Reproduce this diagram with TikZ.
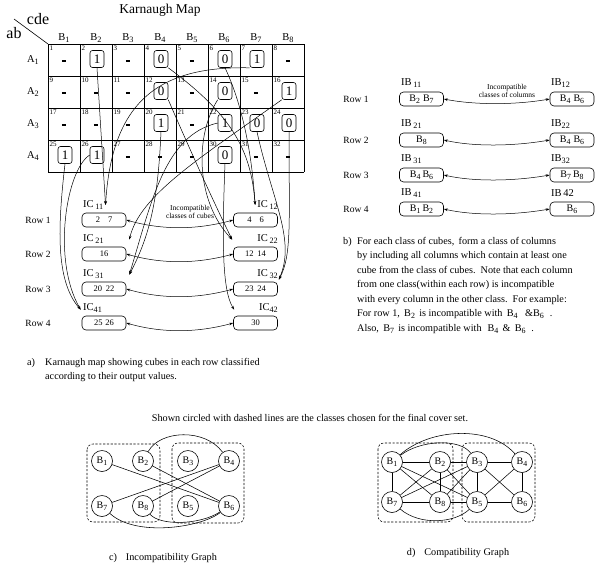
\documentclass[tikz,border=0pt]{standalone}
\usepackage{fontspec}
\setmainfont{Liberation Serif}
\usetikzlibrary{arrows.meta,calc}
\newcommand{\lw}[1]{\raisebox{-0.45ex}{\scalebox{0.78}{#1}}}
\newcommand{\fs}[1]{\fontsize{#1}{#1}\selectfont}
\begin{document}
\begin{tikzpicture}[x=1pt,y=-1pt,
  every node/.style={inner sep=0pt},
  cellbox/.style={draw, rounded corners=2.5pt, minimum width=14pt, minimum height=17pt, font=\fs{13}, line width=0.6pt},
  cellnum/.style={anchor=north west, font=\fs{7}},
  hdr/.style={font=\fs{10.5}},
  icbox/.style={draw, rounded corners=4pt, minimum width=44pt, minimum height=14pt, font=\fs{8.5}, line width=0.6pt},
  ibbox/.style={draw, rounded corners=4pt, minimum width=44pt, minimum height=14pt, font=\fs{10}, line width=0.6pt},
  lab/.style={font=\fs{10.5}},
  rowlab/.style={font=\fs{9.5}},
  note/.style={font=\fontsize{7.5}{8}\selectfont, align=center},
  conn/.style={line width=0.5pt, -{Stealth[length=4pt,width=2.6pt]}},
  dbl/.style={line width=0.5pt, {Stealth[length=4pt,width=2.6pt]}-{Stealth[length=4pt,width=2.6pt]}},
  gnode/.style={draw, circle, minimum size=21pt, font=\fs{10}, line width=0.6pt},
  gedge/.style={line width=0.55pt},
  dashbox/.style={draw, line width=0.55pt, dash pattern=on 2.2pt off 1.6pt, rounded corners=6pt},
  txt/.style={font=\fontsize{10.2}{14.5}\selectfont}
]
\useasboundingbox (0,0) rectangle (599,571);

% ---------- Karnaugh map ----------
\node[font=\fs{13.5}] (title) at (160,10) {Karnaugh Map};
\node[font=\fs{16}] (cde) at (38,19) {cde};
\node[font=\fs{16}] (ab) at (14,33) {ab};
\coordinate (dg) at (14,19);
\coordinate (kc) at (48,44);
\draw[line width=0.6pt] (dg) -- (kc);

\foreach \i in {0,...,8} \draw[line width=0.6pt] (48+32*\i,44) -- (48+32*\i,172);
\foreach \j in {0,...,4} \draw[line width=0.6pt] (48,44+32*\j) -- (304,44+32*\j);

\foreach \c in {1,...,8} \node[hdr] (hB\c) at (32*\c+32,38) {B\lw{\c}};
\foreach \r in {1,...,4} \node[hdr] (hA\r) at (33,28+32*\r) {A\lw{\r}};

\foreach \n in {1,...,32}{
  \pgfmathtruncatemacro\cc{mod(\n-1,8)}
  \pgfmathtruncatemacro\rr{(\n-1)/8}
  \node[cellnum] (num\n) at (49.5+32*\cc,45.5+32*\rr) {\n};
}
\foreach \n/\v in {2/1,4/0,6/0,7/1,12/0,14/0,16/1,20/1,22/1,23/0,24/0,25/1,26/1,30/0}{
  \pgfmathtruncatemacro\cc{mod(\n-1,8)}
  \pgfmathtruncatemacro\rr{(\n-1)/8}
  \node[cellbox] (k\n) at (65+32*\cc,59+32*\rr) {\v};
}
\foreach \n in {1,3,5,8,9,10,11,13,15,17,18,19,21,27,28,29,31,32}{
  \pgfmathtruncatemacro\cc{mod(\n-1,8)}
  \pgfmathtruncatemacro\rr{(\n-1)/8}
  \node (k\n) at (64+32*\cc,61+32*\rr) {\rule{4.5pt}{1.5pt}};
}

% ---------- classes of cubes ----------
\node[rowlab] (r1) at (38,220) {Row 1};
\node[rowlab] (r2) at (38,254) {Row 2};
\node[rowlab] (r3) at (38,289) {Row 3};
\node[rowlab] (r4) at (38,323) {Row 4};

\node[icbox] (ic11) at (104,220) {2\hspace{8pt}7};
\node[icbox] (ic12) at (255.5,220) {4\hspace{8pt}6};
\node[icbox] (ic21) at (104,254) {16};
\node[icbox] (ic22) at (255.5,254) {12\hspace{4pt}14};
\node[icbox] (ic31) at (104,289) {20\hspace{4pt}22};
\node[icbox] (ic32) at (255.5,289) {23\hspace{4pt}24};
\node[icbox] (ic41) at (104,323) {25\hspace{3pt}26};
\node[icbox] (ic42) at (255.5,323) {30};

\node[lab,anchor=west] (ic11l) at (83,205) {IC\,\lw{11}};
\node[lab,anchor=east] (ic12l) at (278,205) {IC\,\lw{12}};
\node[lab,anchor=west] (ic21l) at (83,239) {IC\,\lw{21}};
\node[lab,anchor=east] (ic22l) at (278,239) {IC\,\lw{22}};
\node[lab,anchor=west] (ic31l) at (83,274) {IC\,\lw{31}};
\node[lab,anchor=east] (ic32l) at (278,274) {IC\,\lw{32}};
\node[lab,anchor=west] (ic41l) at (83,308) {IC\lw{41}};
\node[lab,anchor=east] (ic42l) at (278,308) {IC\lw{42}};

\node[note] (nt1) at (190,212) {Incompatible\\classes of cubes};

\draw[dbl] (ic11.east) .. controls (165,231) and (200,229) .. (ic12.west);
\draw[dbl] (ic21.east) .. controls (165,265) and (200,263) .. (ic22.west);
\draw[dbl] (ic31.east) .. controls (165,300) and (200,298) .. (ic32.west);
\draw[dbl] (ic41.east) .. controls (165,334) and (200,332) .. (ic42.west);

% connectors from the map
\draw[conn] (k2.south) -- ([xshift=2pt]ic11l.east);
\draw[conn] (k7.south west) .. controls (160,66) and (112,100) .. ([xshift=2pt]ic11l.east);
\draw[conn] (k4.south east) .. controls (232,115) and (251,150) .. ([xshift=-2pt]ic12l.west);
\draw[conn] (k6.south) .. controls (238,95) and (251,140) .. ([xshift=-2pt]ic12l.west);
\draw[conn] (k16.south west) .. controls (200,158) and (140,195) .. ([shift={(3,-7)}]ic21.north east);
\draw[conn] (k12.south east) .. controls (190,150) and (215,205) .. ([shift={(-1,-7)}]ic22.north west);
\draw[conn] (k14.south west) .. controls (195,135) and (195,200) .. ([shift={(-1,-7)}]ic22.north west);
\draw[conn] (k20.south) .. controls (158,200) and (150,235) .. ([shift={(3,-7)}]ic31.north east);
\draw[conn] (k22.west) .. controls (165,135) and (152,200) .. ([shift={(3,-7)}]ic31.north east);
\draw[conn] (k23.south) .. controls (272,200) and (296,240) .. ([shift={(1,-2)}]ic32.north east);
\draw[conn] (k24.south) .. controls (289,220) and (292,255) .. ([shift={(1,-2)}]ic32.north east);
\draw[conn] (k25.south) .. controls (58,225) and (55,280) .. ([shift={(-1,-6)}]ic41.north west);
\draw[conn] (k26.west) .. controls (66,170) and (52,260) .. ([shift={(-1,-6)}]ic41.north west);
\draw[conn] (k30.south) .. controls (222,240) and (222,290) .. ([shift={(1,-6)}]ic42.north west);

% ---------- classes of columns ----------
\node[rowlab] (br1) at (356,99) {Row 1};
\node[rowlab] (br2) at (356,140) {Row 2};
\node[rowlab] (br3) at (356,175) {Row 3};
\node[rowlab] (br4) at (356,209) {Row 4};

\node[ibbox] (ib11) at (421.5,99) {B\lw{2}\hspace{3pt}B\lw{7}};
\node[ibbox] (ib12) at (572,99) {B\lw{4}\hspace{3pt}B\lw{6}};
\node[ibbox] (ib21) at (421.5,140) {B\lw{8}};
\node[ibbox] (ib22) at (572,140) {B\lw{4}\hspace{3pt}B\lw{6}};
\node[ibbox] (ib31) at (421.5,175) {B\lw{4}\hspace{2pt}B\lw{6}};
\node[ibbox] (ib32) at (572,175) {B\lw{7}\hspace{2pt}B\lw{8}};
\node[ibbox] (ib41) at (421.5,209) {B\lw{1}\hspace{2pt}B\lw{2}};
\node[ibbox] (ib42) at (572,209) {B\lw{6}};

\node[lab,anchor=west] (ib11l) at (401,83) {IB\,\lw{11}};
\node[lab,anchor=west] (ib12l) at (551,83) {IB\lw{12}};
\node[lab,anchor=west] (ib21l) at (401,124) {IB\,\lw{21}};
\node[lab,anchor=west] (ib22l) at (551,124) {IB\lw{22}};
\node[lab,anchor=west] (ib31l) at (401,159) {IB\,\lw{31}};
\node[lab,anchor=west] (ib32l) at (551,159) {IB\lw{32}};
\node[lab,anchor=west] (ib41l) at (401,193) {IB\,\lw{41}};
\node[lab,anchor=west] (ib42l) at (551,193) {IB\,42};

\node[note] (nt2) at (507,91) {Incompatible\\classes of columns};

\draw[dbl] (ib11.east) .. controls (475,105) and (515,105) .. (ib12.west);
\draw[dbl] (ib21.east) .. controls (475,147) and (515,146) .. (ib22.west);
\draw[dbl] (ib31.east) .. controls (475,182) and (515,181) .. (ib32.west);
\draw[dbl] (ib41.east) .. controls (475,216) and (515,215) .. (ib42.west);

\node[txt,anchor=north west] (blab) at (343,237) {b)};
\node[txt,anchor=north west,align=left] (btext) at (357,237) {For each class of cubes,\, form a class of columns\\
by including all columns which contain at least one\\
cube from the class of cubes.\, Note that each column\\
from one class(within each row) is incompatible\\
with every column in the other class.\, For example:\\
For row 1,\, B\lw{2}\, is incompatible with\, B\lw{4}\,\,\, \&B\lw{6}\,\, .\\
Also,\, B\lw{7}\, is incompatible with\,\, B\lw{4}\, \&\, B\lw{6}\,\, .};

\node[txt,anchor=north west] (capal) at (27,358) {a)};
\node[txt,anchor=north west,align=left] (capa) at (45,358) {Karnaugh map showing cubes in each row classified\\according to their output values.};

\node[txt] (shown) at (310,418) {Shown circled with dashed lines are the classes chosen for the final cover set.};

% ---------- incompatibility graph ----------
\draw[dashbox] (87,444) rectangle (160,522);
\draw[dashbox] (172,443) rectangle (244,523);
\node[gnode] (c1) at (102,461) {B\lw{1}};
\node[gnode] (c2) at (143,461) {B\lw{2}};
\node[gnode] (c3) at (188,461) {B\lw{3}};
\node[gnode] (c4) at (229,461) {B\lw{4}};
\node[gnode] (c7) at (102,506) {B\lw{7}};
\node[gnode] (c8) at (143,506) {B\lw{8}};
\node[gnode] (c5) at (188,506) {B\lw{5}};
\node[gnode] (c6) at (229,506) {B\lw{6}};
\draw[gedge] (c2) .. controls (160,430) and (205,428) .. (c4);
\draw[gedge] (c1) -- (c6);
\draw[gedge] (c2) -- (c6);
\draw[gedge] (c7) -- (c4);
\draw[gedge] (c8) -- (c4);
\draw[gedge] (c7) .. controls (135,537) and (200,528) .. (c6);
\draw[gedge] (c8) .. controls (160,526) and (200,525) .. (c6);
\node[txt] (capc) at (163,558) {c)\hspace{9pt}Incompatibility Graph};

% ---------- compatibility graph ----------
\draw[dashbox] (378,443) rectangle (453,522);
\draw[dashbox] (462,443) rectangle (535,522);
\node[gnode] (d1) at (392,462) {B\lw{1}};
\node[gnode] (d2) at (440,462) {B\lw{2}};
\node[gnode] (d3) at (477,462) {B\lw{3}};
\node[gnode] (d4) at (522,462) {B\lw{4}};
\node[gnode] (d7) at (392,502) {B\lw{7}};
\node[gnode] (d8) at (440,502) {B\lw{8}};
\node[gnode] (d5) at (477,502) {B\lw{5}};
\node[gnode] (d6) at (522,502) {B\lw{6}};
\foreach \a/\b in {d1/d2,d1/d7,d1/d8,d1/d5,d2/d3,d2/d7,d2/d8,d2/d5,d3/d4,d3/d5,d3/d6,d3/d7,d3/d8,d4/d5,d4/d6,d5/d6,d5/d8,d7/d8}
  \draw[gedge] (\a) -- (\b);
\draw[gedge] (d1) .. controls (430,428) and (490,425) .. (d4);
\draw[gedge] (d1) .. controls (420,440) and (460,438) .. (d3);
\draw[gedge] (d7) .. controls (420,526) and (455,523) .. (d5);
\node[txt] (capd) at (458,553) {d)\hspace{9pt}Compatibility Graph};
\end{tikzpicture}
\end{document}
